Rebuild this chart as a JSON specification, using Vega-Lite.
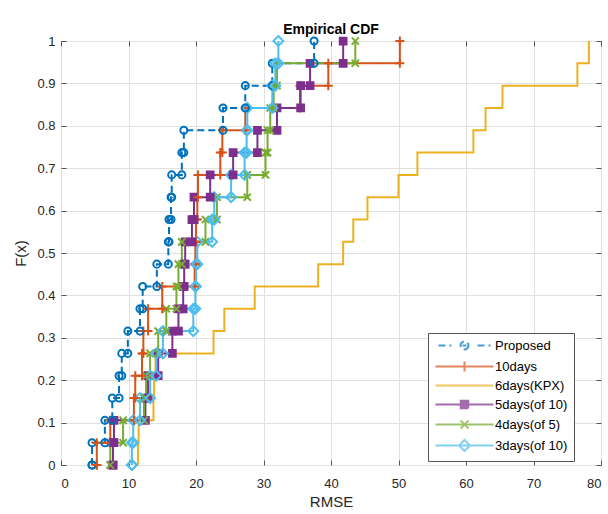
{
  "$schema": "https://vega.github.io/schema/vega-lite/v6.json",
  "width": 540,
  "height": 424,
  "autosize": "none",
  "padding": {"left": 61, "top": 41, "right": 7, "bottom": 49},
  "background": "white",
  "config": {
    "view": {"stroke": "#555555", "strokeWidth": 1},
    "font": "Liberation Sans",
    "axis": {"labelFont": "Liberation Sans", "titleFont": "Liberation Sans", "labelColor": "#262626", "titleColor": "#262626", "labelFontSize": 13, "titleFontSize": 15, "titleFontWeight": "normal", "gridColor": "#e0e0e0", "gridWidth": 1, "tickColor": "#555555", "domainColor": "#555555"}
  },
  "title": {"text": "Empirical CDF", "fontSize": 14, "fontWeight": "bold", "font": "Liberation Sans", "color": "#000000", "offset": 6, "dy": 11, "anchor": "middle"},
  "data": {"values": [
    {"s":"Proposed","x":4.6,"F":0},{"s":"Proposed","x":4.6,"F":0.0526},{"s":"Proposed","x":6.5,"F":0.1053},{"s":"Proposed","x":7.6,"F":0.1579},{"s":"Proposed","x":8.6,"F":0.2105},{"s":"Proposed","x":9.0,"F":0.2632},{"s":"Proposed","x":9.9,"F":0.3158},{"s":"Proposed","x":11.7,"F":0.3684},{"s":"Proposed","x":12.1,"F":0.4211},{"s":"Proposed","x":14.2,"F":0.4737},{"s":"Proposed","x":15.9,"F":0.5263},{"s":"Proposed","x":16.0,"F":0.5789},{"s":"Proposed","x":16.3,"F":0.6316},{"s":"Proposed","x":16.4,"F":0.6842},{"s":"Proposed","x":17.9,"F":0.7368},{"s":"Proposed","x":18.2,"F":0.7895},{"s":"Proposed","x":24.0,"F":0.8421},{"s":"Proposed","x":27.3,"F":0.8947},{"s":"Proposed","x":31.3,"F":0.9474},{"s":"Proposed","x":37.5,"F":1},
    {"s":"10days","x":5.3,"F":0},{"s":"10days","x":5.3,"F":0.0526},{"s":"10days","x":7.3,"F":0.1053},{"s":"10days","x":10.8,"F":0.1579},{"s":"10days","x":11.0,"F":0.2105},{"s":"10days","x":12.0,"F":0.2632},{"s":"10days","x":12.2,"F":0.3158},{"s":"10days","x":12.9,"F":0.3684},{"s":"10days","x":15.0,"F":0.4211},{"s":"10days","x":19.8,"F":0.4737},{"s":"10days","x":19.9,"F":0.5263},{"s":"10days","x":20.0,"F":0.5789},{"s":"10days","x":20.2,"F":0.6316},{"s":"10days","x":20.3,"F":0.6842},{"s":"10days","x":23.6,"F":0.7368},{"s":"10days","x":23.9,"F":0.7895},{"s":"10days","x":27.3,"F":0.8421},{"s":"10days","x":35.4,"F":0.8947},{"s":"10days","x":39.6,"F":0.9474},{"s":"10days","x":50.2,"F":1},
    {"s":"6days(KPX)","x":11.4,"F":0},{"s":"6days(KPX)","x":11.4,"F":0.0526},{"s":"6days(KPX)","x":11.5,"F":0.1053},{"s":"6days(KPX)","x":13.7,"F":0.1579},{"s":"6days(KPX)","x":13.8,"F":0.2105},{"s":"6days(KPX)","x":14.0,"F":0.2632},{"s":"6days(KPX)","x":22.6,"F":0.3158},{"s":"6days(KPX)","x":24.2,"F":0.3684},{"s":"6days(KPX)","x":28.7,"F":0.4211},{"s":"6days(KPX)","x":38.1,"F":0.4737},{"s":"6days(KPX)","x":41.8,"F":0.5263},{"s":"6days(KPX)","x":43.3,"F":0.5789},{"s":"6days(KPX)","x":45.4,"F":0.6316},{"s":"6days(KPX)","x":50.0,"F":0.6842},{"s":"6days(KPX)","x":52.8,"F":0.7368},{"s":"6days(KPX)","x":61.1,"F":0.7895},{"s":"6days(KPX)","x":62.9,"F":0.8421},{"s":"6days(KPX)","x":65.4,"F":0.8947},{"s":"6days(KPX)","x":76.5,"F":0.9474},{"s":"6days(KPX)","x":78.2,"F":1},
    {"s":"5days(of 10)","x":7.7,"F":0},{"s":"5days(of 10)","x":7.7,"F":0.0526},{"s":"5days(of 10)","x":7.85,"F":0.1053},{"s":"5days(of 10)","x":12.5,"F":0.1579},{"s":"5days(of 10)","x":12.9,"F":0.2105},{"s":"5days(of 10)","x":14.4,"F":0.2632},{"s":"5days(of 10)","x":16.5,"F":0.3158},{"s":"5days(of 10)","x":17.4,"F":0.3684},{"s":"5days(of 10)","x":18.1,"F":0.4211},{"s":"5days(of 10)","x":18.25,"F":0.4737},{"s":"5days(of 10)","x":18.4,"F":0.5263},{"s":"5days(of 10)","x":19.4,"F":0.5789},{"s":"5days(of 10)","x":19.7,"F":0.6316},{"s":"5days(of 10)","x":22.1,"F":0.6842},{"s":"5days(of 10)","x":25.5,"F":0.7368},{"s":"5days(of 10)","x":29.1,"F":0.7895},{"s":"5days(of 10)","x":32.0,"F":0.8421},{"s":"5days(of 10)","x":35.5,"F":0.8947},{"s":"5days(of 10)","x":36.9,"F":0.9474},{"s":"5days(of 10)","x":41.8,"F":1},
    {"s":"4days(of 5)","x":7.3,"F":0},{"s":"4days(of 5)","x":7.3,"F":0.0526},{"s":"4days(of 5)","x":9.2,"F":0.1053},{"s":"4days(of 5)","x":12.3,"F":0.1579},{"s":"4days(of 5)","x":12.6,"F":0.2105},{"s":"4days(of 5)","x":13.2,"F":0.2632},{"s":"4days(of 5)","x":14.4,"F":0.3158},{"s":"4days(of 5)","x":15.6,"F":0.3684},{"s":"4days(of 5)","x":17.1,"F":0.4211},{"s":"4days(of 5)","x":17.4,"F":0.4737},{"s":"4days(of 5)","x":17.9,"F":0.5263},{"s":"4days(of 5)","x":21.4,"F":0.5789},{"s":"4days(of 5)","x":23.1,"F":0.6316},{"s":"4days(of 5)","x":27.6,"F":0.6842},{"s":"4days(of 5)","x":30.3,"F":0.7368},{"s":"4days(of 5)","x":30.6,"F":0.7895},{"s":"4days(of 5)","x":31.0,"F":0.8421},{"s":"4days(of 5)","x":31.5,"F":0.8947},{"s":"4days(of 5)","x":32.0,"F":0.9474},{"s":"4days(of 5)","x":43.6,"F":1},
    {"s":"3days(of 10)","x":10.5,"F":0},{"s":"3days(of 10)","x":10.5,"F":0.0526},{"s":"3days(of 10)","x":10.7,"F":0.1053},{"s":"3days(of 10)","x":11.7,"F":0.1579},{"s":"3days(of 10)","x":13.2,"F":0.2105},{"s":"3days(of 10)","x":14.1,"F":0.2632},{"s":"3days(of 10)","x":15.1,"F":0.3158},{"s":"3days(of 10)","x":19.6,"F":0.3684},{"s":"3days(of 10)","x":19.9,"F":0.4211},{"s":"3days(of 10)","x":20.0,"F":0.4737},{"s":"3days(of 10)","x":20.2,"F":0.5263},{"s":"3days(of 10)","x":22.4,"F":0.5789},{"s":"3days(of 10)","x":22.7,"F":0.6316},{"s":"3days(of 10)","x":25.2,"F":0.6842},{"s":"3days(of 10)","x":27.2,"F":0.7368},{"s":"3days(of 10)","x":27.5,"F":0.7895},{"s":"3days(of 10)","x":27.6,"F":0.8421},{"s":"3days(of 10)","x":31.3,"F":0.8947},{"s":"3days(of 10)","x":31.75,"F":0.9474},{"s":"3days(of 10)","x":32.2,"F":1}
  ]},
  "resolve": {"axis": {"x": "independent", "y": "independent"}},
  "layer": [
    {
      "mark": {"type": "line", "interpolate": "step-after", "strokeWidth": 2},
      "encoding": {
        "x": {"field": "x", "type": "quantitative", "scale": {"domain": [0, 80], "nice": false}, "axis": {"values": [0,10,20,30,40,50,60,70,80], "title": "RMSE", "grid": true, "domain": false, "tickSize": -5, "labelPadding": 17, "titlePadding": 4}},
        "y": {"field": "F", "type": "quantitative", "scale": {"domain": [0, 1], "nice": false}, "axis": {"values": [0,0.1,0.2,0.3,0.4,0.5,0.6,0.7,0.8,0.9,1], "format": "~g", "title": "F(x)", "grid": true, "domain": false, "tickSize": -5, "labelPadding": 11, "titlePadding": 8}},
        "stroke": {"field": "s", "type": "nominal", "scale": {"domain": ["Proposed","10days","6days(KPX)","5days(of 10)","4days(of 5)","3days(of 10)"], "range": ["#0072BD","#D95319","#EDB120","#7E2F8E","#77AC30","#4DBEEE"]},
          "legend": {"orient": "none", "legendX": 367, "legendY": 292, "title": null, "symbolSize": 100, "symbolStrokeWidth": 2, "labelFont": "Liberation Sans", "labelFontSize": 13, "labelColor": "#000000", "strokeColor": "#555555", "fillColor": "white", "padding": 6, "rowPadding": 3, "symbolOffset": 24, "labelOffset": 24}},
        "strokeDash": {"field": "s", "type": "nominal", "scale": {"domain": ["Proposed","10days","6days(KPX)","5days(of 10)","4days(of 5)","3days(of 10)"], "range": [[7,4],[1,0],[1,0],[1,0],[1,0],[1,0]]}, "legend": null},
        "order": {"field": "F", "type": "quantitative"}
      }
    },
    {
      "transform": [{"filter": "false"}],
      "mark": {"type": "point", "strokeWidth": 2, "size": 100},
      "encoding": {
        "x": {"field": "x", "type": "quantitative", "axis": null},
        "y": {"field": "F", "type": "quantitative", "axis": null},
        "stroke": {"field": "s", "type": "nominal"},
        "shape": {"field": "s", "type": "nominal", "scale": {"domain": ["Proposed","10days","6days(KPX)","5days(of 10)","4days(of 5)","3days(of 10)"], "range": [
          "M-5.2,0H-2.6M2.6,0H5.2M0.8,0L0.739,0.306L0.566,0.566L0.306,0.739L0,0.8L-0.306,0.739L-0.566,0.566L-0.739,0.306L-0.8,0L-0.739,-0.306L-0.566,-0.566L-0.306,-0.739L0,-0.8L0.306,-0.739L0.566,-0.566L0.739,-0.306ZM-0.4,0H0.4",
          "M-5.8,0H5.8M0,-1V1",
          "M-5.8,0H5.8",
          "M-5.8,0H5.8M-0.75,-0.75H0.75V0.75H-0.75ZM-0.75,-0.35H0.75M-0.75,0.35H0.75",
          "M-5.8,0H5.8M-0.8,-0.8L0.8,0.8M-0.8,0.8L0.8,-0.8",
          "M-5.8,0H5.8M0,-1.1L1.1,0L0,1.1L-1.1,0Z"]},
          "legend": {"orient": "none", "legendX": 367, "legendY": 292, "title": null, "symbolSize": 100, "symbolStrokeWidth": 2, "labelFont": "Liberation Sans", "labelFontSize": 13, "labelColor": "#000000", "strokeColor": "#555555", "fillColor": "white", "padding": 6, "rowPadding": 3, "symbolOffset": 24, "labelOffset": 24}}
      }
    },
    {
      "transform": [{"filter": "datum.s !== '6days(KPX)'"}],
      "mark": {"type": "point", "strokeWidth": 2, "opacity": 1},
      "encoding": {
        "x": {"field": "x", "type": "quantitative", "axis": {"orient": "top", "labels": false, "grid": false, "domain": false, "title": null, "tickSize": -5, "values": [0,10,20,30,40,50,60,70,80]}},
        "y": {"field": "F", "type": "quantitative", "axis": {"orient": "right", "labels": false, "grid": false, "domain": false, "title": null, "tickSize": -5, "values": [0,0.1,0.2,0.3,0.4,0.5,0.6,0.7,0.8,0.9,1]}},
        "stroke": {"field": "s", "type": "nominal"},
        "size": {"condition": {"test": "datum.s === 'Proposed'", "value": 50}, "value": 81},
        "shape": {"condition": [
          {"test": "datum.s === 'Proposed'", "value": "circle"},
          {"test": "datum.s === '10days'", "value": "M-1,0H1M0,-1V1"},
          {"test": "datum.s === '5days(of 10)'", "value": "M-0.75,-0.75H0.75V0.75H-0.75Z"},
          {"test": "datum.s === '4days(of 5)'", "value": "M-0.8,-0.8L0.8,0.8M-0.8,0.8L0.8,-0.8"}
        ], "value": "M0,-1.1L1.1,0L0,1.1L-1.1,0Z"},
        "fill": {"condition": {"test": "datum.s === '5days(of 10)'", "value": "#7E2F8E"}, "value": "transparent"}
      }
    },
    {
      "transform": [
        {"window": [{"op": "lag", "field": "F", "as": "pF"}], "groupby": ["s"], "sort": [{"field": "F"}]},
        {"filter": "datum.pF != null && datum.s !== '6days(KPX)'"}
      ],
      "mark": {"type": "point", "strokeWidth": 2, "opacity": 1},
      "encoding": {
        "x": {"field": "x", "type": "quantitative", "axis": null},
        "y": {"field": "pF", "type": "quantitative", "axis": null},
        "stroke": {"field": "s", "type": "nominal"},
        "size": {"condition": {"test": "datum.s === 'Proposed'", "value": 50}, "value": 81},
        "shape": {"condition": [
          {"test": "datum.s === 'Proposed'", "value": "circle"},
          {"test": "datum.s === '10days'", "value": "M-1,0H1M0,-1V1"},
          {"test": "datum.s === '5days(of 10)'", "value": "M-0.75,-0.75H0.75V0.75H-0.75Z"},
          {"test": "datum.s === '4days(of 5)'", "value": "M-0.8,-0.8L0.8,0.8M-0.8,0.8L0.8,-0.8"}
        ], "value": "M0,-1.1L1.1,0L0,1.1L-1.1,0Z"},
        "fill": {"condition": {"test": "datum.s === '5days(of 10)'", "value": "#7E2F8E"}, "value": "transparent"}
      }
    }
  ]
}
